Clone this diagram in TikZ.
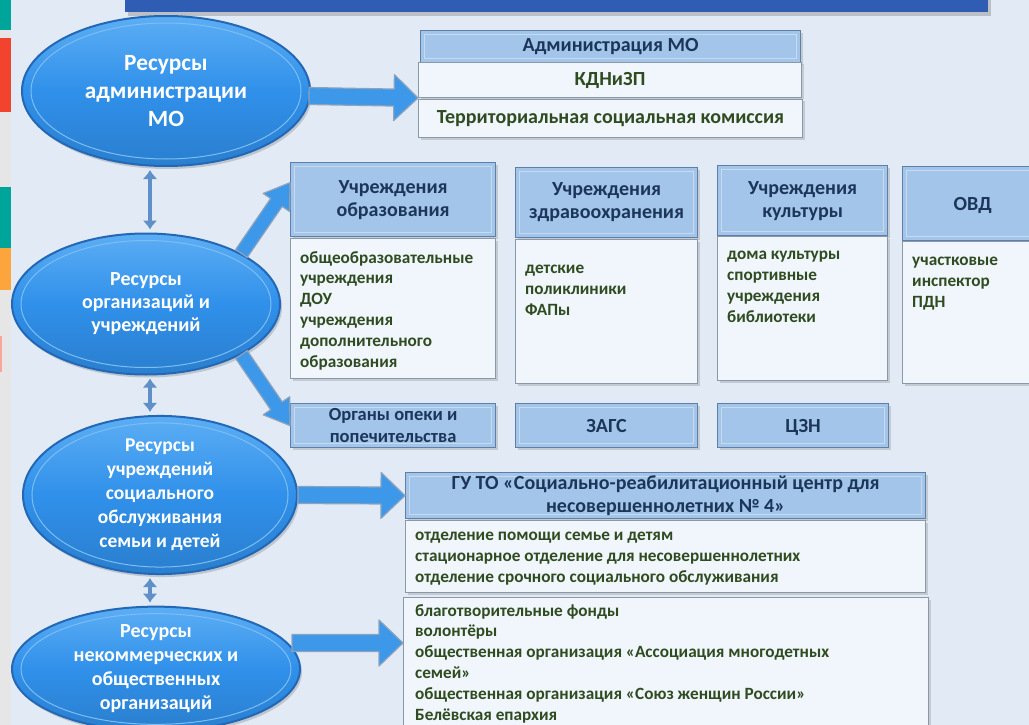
\documentclass[tikz,border=0pt]{standalone}
\usepackage{fontspec}
\setmainfont{Carlito}
\usetikzlibrary{shapes.geometric,shadows,calc,arrows.meta,positioning}

\definecolor{slidebg}{HTML}{E2EBF5}
\definecolor{stripbg}{HTML}{E6E6E6}
\definecolor{stripteal}{HTML}{00A59A}
\definecolor{stripred}{HTML}{F2432F}
\definecolor{striporange}{HTML}{FBA53C}
\definecolor{strippink}{HTML}{F7A79A}
\definecolor{barblue}{HTML}{2F5DB3}
\definecolor{ellfill}{HTML}{3090EA}
\definecolor{elltop}{HTML}{5CAEF4}
\definecolor{ellline}{HTML}{2368B6}
\definecolor{ellring}{HTML}{7DBDF4}
\definecolor{headfill}{HTML}{A3C5EA}
\definecolor{headline}{HTML}{5F7FA6}
\definecolor{headring}{HTML}{C6DBF2}
\definecolor{listfill}{HTML}{F0F6FC}
\definecolor{listline}{HTML}{8A98A8}
\definecolor{navytext}{HTML}{1C3659}
\definecolor{greentext}{HTML}{2F4B20}
\definecolor{arrowfill}{HTML}{3E98EA}
\definecolor{arrowline}{HTML}{8DA3BC}
\definecolor{linkblue}{HTML}{5F90C8}

% block arrow: tail, tip, shaft half width, head half width
\newcommand{\blockarrow}[4]{%
  \coordinate (ahbase) at ($(#2)!24pt!(#1)$);
  \filldraw[fill=arrowfill, draw=arrowline, line width=1.2pt, line join=round]
    ($(#1)!#3!90:(#2)$) -- ($(ahbase)!#3!-90:(#1)$) -- ($(ahbase)!#4!-90:(#1)$)
    -- (#2) -- ($(ahbase)!#4!90:(#1)$) -- ($(ahbase)!#3!90:(#1)$)
    -- ($(#1)!#3!-90:(#2)$) -- cycle;
}

\tikzset{
  resource/.style={ellipse, draw=ellline, line width=2pt,
    top color=elltop, bottom color=ellfill!88!black, middle color=ellfill,
    inner sep=0pt, align=center, text=white,
    font=\bfseries\fontsize{19.5}{24}\selectfont,
    drop shadow={shadow xshift=2pt, shadow yshift=-3pt, opacity=0.35},
    path picture={\draw[ellring, line width=1pt]
      let \p1=(path picture bounding box.north east),
          \p2=(path picture bounding box.center) in
      (\p2) ellipse [x radius={\x1-\x2-9pt}, y radius={\y1-\y2-7pt}];}},
  headbox/.style={draw=headline, line width=1.2pt, fill=headfill,
    anchor=north west, align=center, inner sep=0pt, text=navytext,
    font=\bfseries\fontsize{20}{23}\selectfont,
    drop shadow={shadow xshift=2pt, shadow yshift=-2pt, opacity=0.3},
    path picture={\draw[headring, line width=1.5pt]
      ([shift={(4pt,-4pt)}]path picture bounding box.north west) rectangle
      ([shift={(-4pt,4pt)}]path picture bounding box.south east);}},
  listbox/.style={draw=listline, line width=1pt, fill=listfill,
    anchor=north west, inner sep=0pt,
    drop shadow={shadow xshift=2pt, shadow yshift=-2pt, opacity=0.3}},
  listtext/.style={anchor=north west, align=left, inner sep=0pt,
    text=greentext, font=\bfseries\fontsize{17.2}{20.8}\selectfont},
  vlink/.style={linkblue, line width=4.5pt,
    {Latex[length=9pt,width=15pt]}-{Latex[length=9pt,width=15pt]},
    shorten >=3pt, shorten <=3pt}
}

\begin{document}
\begin{tikzpicture}[x=1pt, y=-1pt]
  \useasboundingbox (0,0) rectangle (1029,725);
  \clip (0,0) rectangle (1029,725);

  % slide background and window strips
  \fill[slidebg] (0,0) rectangle (1029,725);
  \fill[stripbg] (0,0) rectangle (11,725);
  \fill[stripteal] (0,0) rectangle (11,30);
  \fill[stripred] (0,38) rectangle (11,112);
  \fill[stripteal] (0,187) rectangle (11,248);
  \fill[striporange] (0,248) rectangle (11,290);
  \fill[strippink] (0,336) rectangle (2,372);

  % title bar
  \fill[barblue, drop shadow={shadow xshift=3pt, shadow yshift=-4pt, opacity=0.4}]
    (125,-5) rectangle (988,12);

  % resources
  \node[resource, font=\bfseries\fontsize{23.3}{28}\selectfont,
        minimum width=288pt, minimum height=150pt] (res1) at (166,91)
    {Ресурсы\\администрации\\МО};
  \node[resource, font=\bfseries\fontsize{20}{23}\selectfont,
        minimum width=268pt, minimum height=141pt] (res2) at (146,304)
    {Ресурсы\\организаций и\\учреждений};
  \node[resource, minimum width=274pt, minimum height=140pt] (res3) at (160,495)
    {Ресурсы\\учреждений\\социального\\обслуживания\\семьи и детей};
  \node[resource, font=\bfseries\fontsize{20}{24}\selectfont,
        minimum width=288pt, minimum height=124pt] (res4) at (156,669)
    {Ресурсы\\некоммерческих и\\общественных\\организаций};

  % administration
  \node[headbox, minimum width=380pt, minimum height=32pt] (adm) at (420,30)
    {Администрация МО};
  \node[listbox, minimum width=383pt, minimum height=35pt, text=greentext,
        font=\bfseries\fontsize{20}{23}\selectfont] (kdn) at (418,62) {КДНиЗП};
  \node[listbox, minimum width=384pt, minimum height=38pt, text=greentext,
        font=\bfseries\fontsize{20}{23}\selectfont] (tsk) at (418,99)
    {Территориальная социальная комиссия};

  % organisations
  \node[headbox, minimum width=205pt, minimum height=74pt] (eduh) at (290,162)
    {Учреждения\\образования};
  \node[listbox, minimum width=205pt, minimum height=140pt] (edul) at (290,238) {};
  \node[listtext] (edut) at ([shift={(10,13)}]edul.north west)
    {общеобразовательные\\учреждения\\ДОУ\\учреждения\\дополнительного\\образования};

  \node[headbox, minimum width=182pt, minimum height=70pt] (heah) at (515,167)
    {Учреждения\\здравоохранения};
  \node[listbox, minimum width=182pt, minimum height=144pt] (heal) at (515,239) {};
  \node[listtext] (heat) at ([shift={(10,26)}]heal.north west)
    {детские\\поликлиники\\ФАПы};

  \node[headbox, minimum width=170pt, minimum height=70pt] (culh) at (717,165)
    {Учреждения\\культуры};
  \node[listbox, minimum width=170pt, minimum height=144pt] (cull) at (717,236) {};
  \node[listtext] (cult) at ([shift={(10,15)}]cull.north west)
    {дома культуры\\спортивные\\учреждения\\библиотеки};

  \node[headbox, minimum width=140pt, minimum height=74pt, text depth=0pt] (ovdh) at (902,166)
    {ОВД};
  \node[listbox, minimum width=140pt, minimum height=142pt] (ovdl) at (902,241) {};
  \node[listtext] (ovdt) at ([shift={(10,16)}]ovdl.north west)
    {участковые\\инспектор\\ПДН};

  \node[headbox, minimum width=205pt, minimum height=44pt,
        font=\bfseries\fontsize{18.5}{22}\selectfont] (opeka) at (290,403)
    {Органы опеки и\\попечительства};
  \node[headbox, minimum width=182pt, minimum height=44pt, text depth=0pt] (zags) at (515,403) {ЗАГС};
  \node[headbox, minimum width=171pt, minimum height=44pt, text depth=0pt] (czn) at (717,403) {ЦЗН};

  % social service
  \node[headbox, minimum width=520pt, minimum height=46pt] (guh) at (405,472)
    {ГУ ТО «Социально-реабилитационный центр для\\несовершеннолетних №~4»};
  \node[listbox, minimum width=520pt, minimum height=72pt] (gul) at (405,520) {};
  \node[listtext] (gut) at ([shift={(10,12)}]gul.north west)
    {отделение помощи семье и детям\\стационарное отделение для несовершеннолетних\\отделение срочного социального обслуживания};

  % non-profit
  \node[listbox, minimum width=525pt, minimum height=140pt] (nko) at (403,597) {};
  \node[listtext] (nkot) at ([shift={(12,7)}]nko.north west)
    {благотворительные фонды\\волонтёры\\общественная организация «Ассоциация многодетных\\семей»\\общественная организация «Союз женщин России»\\Белёвская епархия};

  % links between resources
  \coordinate (vx) at (150,0);
  \draw[vlink] (vx |- res1.south) -- (vx |- res2.north);
  \draw[vlink] (vx |- res2.south) -- (vx |- res3.north);
  \draw[vlink] (vx |- res3.south) -- (vx |- res4.north);

  % block arrows
  \coordinate (a1s) at (309,96);
  \coordinate (a4s) at (292,643);
  \coordinate (a4e) at ($(nko.north west)+(0,46)$);
  \blockarrow{a1s}{kdn.south west}{8.5pt}{23pt}
  \blockarrow{res2.north east}{$(eduh.west)!0.45!(eduh.north west)$}{7pt}{16pt}
  \blockarrow{res2.south east}{opeka.west}{7pt}{16pt}
  \blockarrow{res3.east}{guh.west}{8.5pt}{23pt}
  \blockarrow{a4s}{a4e}{8.5pt}{23pt}
\end{tikzpicture}
\end{document}
